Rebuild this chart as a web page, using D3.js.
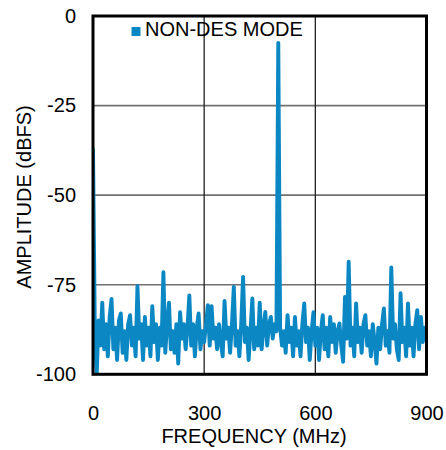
<!DOCTYPE html>
<html>
<head>
<meta charset="utf-8">
<script src="https://cdn.jsdelivr.net/npm/d3@7"></script>
<style>
  body { margin: 0; background: #fff; }
  text { font-family: "Liberation Sans", Arial, sans-serif; fill: #000; }
</style>
</head>
<body>
<div id="chart"></div>
<script>
// spectrum, one amplitude (dBFS) every 5 MHz from 0 to 900 MHz
const freqStep = 5;
const amplitude = [
  -37, -88, -100, -85, -92, -80, -93, -86, -95, -84,
  -79, -93, -87, -96, -85, -83, -94, -88, -96, -86,
  -83.5, -92, -87, -95, -75.4, -90, -86, -96, -84, -92,
  -87, -95, -81, -91, -86, -96, -87, -92, -71.5, -94,
  -86, -80, -93, -88, -94, -86, -97, -82.7, -90, -86,
  -93, -87, -78, -92, -86, -95, -87, -83, -93, -88,
  -91, -86, -80.7, -92, -81, -90, -87, -93, -86, -91,
  -95, -79.5, -90, -87, -94, -86, -75.6, -92, -88, -95,
  -86, -72.8, -91, -87, -96, -88, -78.8, -93, -87, -92,
  -80, -93, -87, -82.6, -92, -86, -84, -90, -86, -88,
  -7.5, -87, -92, -88, -94, -83.5, -91, -87, -95, -84,
  -92, -88, -95, -86, -80.2, -91, -87, -96, -88, -82.7,
  -92, -87, -96, -88, -83.5, -93, -87, -95, -84, -91,
  -86, -94, -88, -85.8, -92, -96.5, -78.4, -90, -68.6, -92,
  -87, -95, -80.2, -91, -87, -94, -86, -83.5, -92, -88,
  -95, -86, -91, -97, -87, -93, -86, -81.6, -92, -88,
  -94, -70.2, -90, -86, -93, -96, -77.4, -91, -87, -95,
  -80.2, -92, -87, -95, -86, -82.1, -93, -84, -91, -87, -89
];
const xTicks = [0, 300, 600, 900];
const yTicks = [0, -25, -50, -75, -100];
const seriesName = "NON-DES MODE";

const W = 446, H = 450;
const margin = {left: 93, right: 446 - 426.5, top: 16, bottom: 450 - 374.3};
const innerW = W - margin.left - margin.right;
const innerH = H - margin.top - margin.bottom;
const blue = "#0b88c4";

const svg = d3.select("#chart").append("svg")
  .attr("width", W).attr("height", H);

const x = d3.scaleLinear().domain([0, 900]).range([0, innerW]);
const y = d3.scaleLinear().domain([-100, 0]).range([innerH, 0]);

const g = svg.append("g").attr("transform", `translate(${margin.left},${margin.top})`);

// grid
g.selectAll(".hgrid").data(yTicks.filter(d => d > -100 && d < 0)).enter()
  .append("line")
  .attr("x1", 0).attr("x2", innerW)
  .attr("y1", d => y(d)).attr("y2", d => y(d))
  .attr("stroke", "#707070").attr("stroke-width", 1.6);
g.selectAll(".vgrid").data(xTicks.filter(d => d > 0 && d < 900)).enter()
  .append("line")
  .attr("y1", 0).attr("y2", innerH)
  .attr("x1", d => x(d)).attr("x2", d => x(d))
  .attr("stroke", "#222").attr("stroke-width", 1.3);

// trace
svg.append("defs").append("clipPath").attr("id", "clip")
  .append("rect").attr("width", innerW).attr("height", innerH);

const line = d3.line()
  .x((d, i) => x(i * freqStep))
  .y(d => y(d));

g.append("path")
  .datum(amplitude)
  .attr("clip-path", "url(#clip)")
  .attr("d", line)
  .attr("fill", "none")
  .attr("stroke", blue)
  .attr("stroke-width", 3.9)
  .attr("stroke-linejoin", "round");

// frame
g.append("rect")
  .attr("width", innerW).attr("height", innerH)
  .attr("fill", "none").attr("stroke", "#000").attr("stroke-width", 3);

// axes
const yAxis = g.append("g").attr("transform", "translate(-14,0)")
  .call(d3.axisLeft(y).tickValues(yTicks).tickSize(0).tickFormat(d => String(d)));
yAxis.select(".domain").remove();
yAxis.selectAll("text").attr("font-size", 20).attr("font-family", "Liberation Sans, Arial, sans-serif").attr("fill", "#000");

const xAxis = g.append("g").attr("transform", `translate(0,${innerH + 28})`)
  .call(d3.axisBottom(x).tickValues(xTicks).tickSize(0).tickFormat(d => String(d)));
xAxis.select(".domain").remove();
xAxis.selectAll("text").attr("font-size", 20).attr("font-family", "Liberation Sans, Arial, sans-serif").attr("fill", "#000");

// titles
svg.append("text")
  .attr("x", 254).attr("y", 443)
  .attr("text-anchor", "middle").attr("font-size", 20)
  .text("FREQUENCY (MHz)");
svg.append("text")
  .attr("transform", "translate(31,197) rotate(-90)")
  .attr("text-anchor", "middle").attr("font-size", 20)
  .text("AMPLITUDE (dBFS)");

// legend
svg.append("rect").attr("x", 131.5).attr("y", 27).attr("width", 9).attr("height", 9).attr("fill", blue);
svg.append("text").attr("x", 145).attr("y", 35.8).attr("font-size", 20).text(seriesName);
</script>
</body>
</html>
